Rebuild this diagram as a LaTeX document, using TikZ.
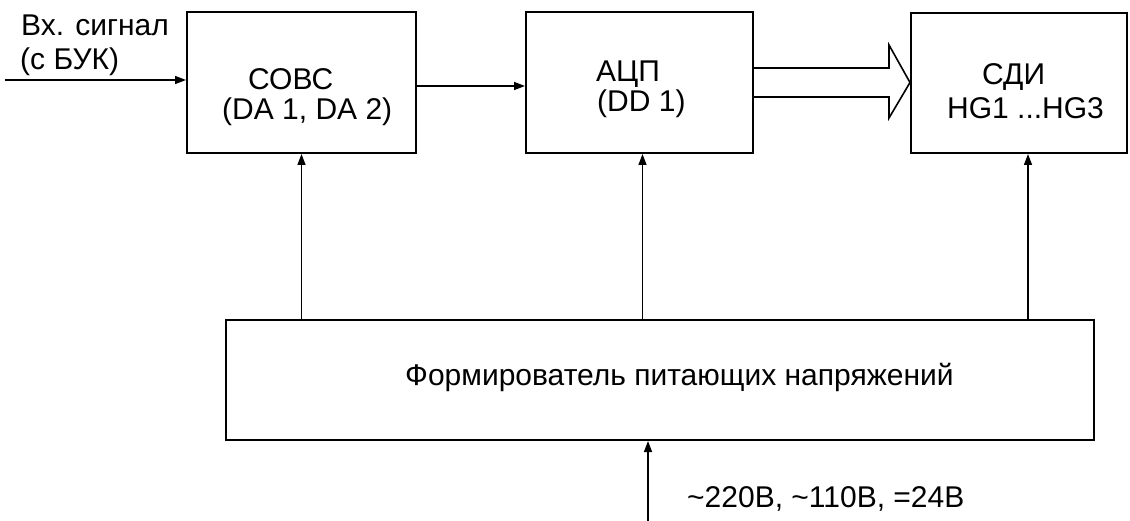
\documentclass[tikz,border=0pt]{standalone}
\usepackage{fontspec}
\setmainfont{Liberation Sans}
\usetikzlibrary{arrows.meta}

\tikzset{
  block/.style={draw, line width=2pt, inner sep=0pt},
  label/.style={anchor=base west, inner sep=0pt, font=\fontsize{30}{36}\selectfont},
  sig/.style={line width=1.4pt, -{Triangle[length=11pt,width=8pt]}}
}

\begin{document}
\begin{tikzpicture}[x=1pt,y=-1pt]

\useasboundingbox (0,0) rectangle (1130,521);

% Blocks
\node[block, minimum width=229pt, minimum height=141pt] (sovs) at (301.5,82.5) {};
\node[block, minimum width=227pt, minimum height=141pt] (acp) at (639.5,82.5) {};
\node[block, minimum width=216pt, minimum height=140pt] (sdi) at (1019,83) {};
\node[block, minimum width=868pt, minimum height=120pt] (pwr) at (660,380) {};

% Free ends
\coordinate (in) at (5,80);
\coordinate (mains) at (648,521);

% Connectors
\draw[sig] (in) -- (in -| sovs.west);
\draw[sig] ([yshift=-3.5pt]sovs.east) -- ([yshift=-3.5pt]acp.west);
\draw[sig] (sovs.south |- pwr.north) -- (sovs.south);
\draw[sig] ([xshift=3pt]acp.south |- pwr.north) -- ([xshift=3pt]acp.south);
\draw[sig] ([xshift=9pt]sdi.south |- pwr.north) -- ([xshift=9pt]sdi.south);
\draw[sig] (mains) -- (mains |- pwr.south);

% Bus arrow
\draw[line width=1.6pt, line join=miter]
  (acp.east |- 0,68) -- (889,68) -- (889,45) -- (sdi.west |- 0,82.5)
  -- (889,118) -- (889,97) -- (acp.east |- 0,97);

% Labels
\node[label] (inA) at (21,36) {Вх. сигнал};
\node[label] (inB) at (20,70) {(с БУК)};
\node[label] (sovsA) at (248,90) {СОВС};
\node[label] (sovsB) at (222,120) {(DA 1, DA 2)};
\node[label] (acpA) at (596,82) {АЦП};
\node[label] (acpB) at (597,112) {(DD 1)};
\node[label] (sdiA) at (982,85) {СДИ};
\node[label] (sdiB) at (947,119) {HG1 ...HG3};
\node[label] (pwrA) at (405,385) {Формирователь питающих напряжений};
\node[label] (mainsA) at (687,507) {\textasciitilde220В, \textasciitilde110В, =24В};

\end{tikzpicture}
\end{document}
